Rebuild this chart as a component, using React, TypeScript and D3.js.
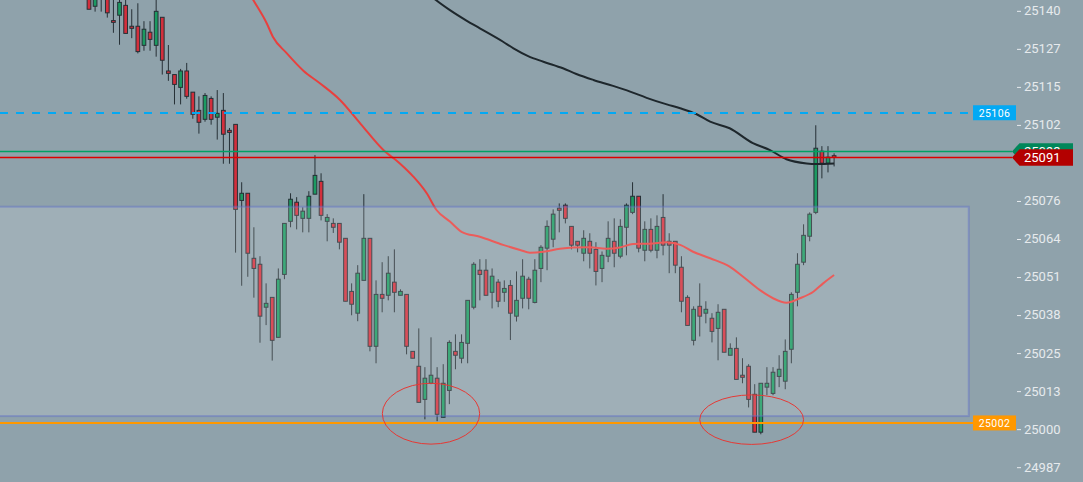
import * as d3 from "d3"

// candles (index 0 = first visible candle)
const open = [
  25147.2, 25141.7, 25152.0, 25144.8, 25136.9, 25138.7, 25142.0, 25135.0, 25135.0, 25128.6,
  25133.0, 25128.6, 25138.0, 25120.0, 25118.8, 25114.5, 25120.0, 25112.9, 25106.8, 25103.8,
  25110.8, 25104.5, 25106.8, 25100.1, 25102.1, 25076.6, 25079.0, 25057.2, 25055.2, 25040.8,
  25044.1, 25030.7, 25051.8, 25069.6, 25076.0, 25070.6, 25070.6, 25078.7, 25083.0, 25069.6,
  25068.9, 25068.9, 25063.9, 25046.1, 25038.8, 25049.8, 25063.9, 25027.7, 25045.1, 25044.8,
  25049.2, 25044.8, 25045.1, 25026.0, 25021.0, 25009.9, 25015.3, 25017.0, 25003.9, 25012.9,
  25026.0, 25023.7, 25028.7, 25040.8, 25053.2, 25053.2, 25045.8, 25049.2, 25045.8, 25048.1,
  25037.8, 25043.8, 25050.2, 25042.4, 25053.8, 25060.6, 25063.6, 25074.0, 25075.0, 25067.9,
  25062.9, 25058.9, 25062.9, 25060.2, 25053.8, 25057.9, 25062.9, 25057.9, 25067.6, 25072.6,
  25078.0, 25059.9, 25066.9, 25059.9, 25070.9, 25062.9, 25062.9, 25054.2, 25044.1, 25029.7,
  25041.1, 25038.8, 25037.1, 25033.7, 25040.1, 25024.7, 25027.0, 25018.0, 25021.0, 25011.6,
  24998.9, 25014.0, 25011.9, 25017.6, 25016.0, 25026.7, 25045.8, 25055.9, 25064.6, 25072.6,
  25093.1, 25089.1, 25091.6,
]
const high = [
  25149.0, 25148.0, 25153.0, 25147.0, 25144.5, 25144.5, 25144.1, 25140.7, 25142.7, 25136.7,
  25136.7, 25144.1, 25138.0, 25128.7, 25118.8, 25120.7, 25122.7, 25112.9, 25111.5, 25112.6,
  25111.5, 25113.6, 25112.6, 25100.9, 25102.1, 25082.7, 25079.0, 25067.6, 25057.9, 25048.8,
  25044.1, 25053.8, 25068.9, 25079.0, 25077.7, 25074.3, 25079.7, 25091.8, 25085.7, 25072.0,
  25070.6, 25068.9, 25063.9, 25048.8, 25054.9, 25078.7, 25063.9, 25049.8, 25055.9, 25057.9,
  25060.2, 25046.8, 25045.1, 25026.0, 25033.7, 25020.7, 25030.7, 25020.7, 25021.7, 25029.7,
  25031.7, 25031.7, 25043.1, 25055.9, 25056.9, 25056.9, 25053.8, 25050.2, 25049.8, 25049.9,
  25052.8, 25056.9, 25051.0, 25056.9, 25061.6, 25069.9, 25073.6, 25075.6, 25075.6, 25067.9,
  25062.9, 25066.6, 25065.6, 25062.6, 25059.5, 25069.6, 25070.6, 25070.3, 25075.6, 25082.7,
  25078.0, 25069.6, 25070.6, 25071.6, 25078.7, 25065.6, 25062.9, 25057.9, 25044.8, 25041.1,
  25048.8, 25042.8, 25038.8, 25041.8, 25040.1, 25028.7, 25030.7, 25023.7, 25021.7, 25015.0,
  25015.3, 25020.7, 25020.7, 25024.7, 25030.0, 25045.8, 25058.9, 25068.6, 25072.6, 25101.8,
  25094.8, 25094.8, 25092.4,
]
const low = [
  25140.7, 25139.9, 25139.9, 25137.9, 25132.8, 25128.8, 25132.6, 25131.0, 25125.9, 25126.8,
  25126.8, 25124.8, 25118.8, 25116.7, 25108.8, 25108.8, 25110.7, 25104.0, 25099.0, 25103.0,
  25102.0, 25097.0, 25088.9, 25088.9, 25059.1, 25048.0, 25051.0, 25044.0, 25028.9, 25034.8,
  25022.9, 25030.7, 25050.2, 25067.6, 25066.9, 25065.9, 25065.9, 25078.7, 25069.9, 25062.9,
  25065.7, 25060.2, 25042.8, 25038.1, 25036.1, 25049.8, 25026.0, 25022.0, 25039.1, 25043.1,
  25039.1, 25044.8, 25025.0, 25023.7, 25008.9, 25003.2, 25015.0, 25002.6, 25003.9, 25008.3,
  25020.0, 25022.0, 25022.0, 25040.1, 25043.1, 25044.8, 25040.4, 25040.8, 25042.6, 25029.8,
  25036.0, 25040.4, 25040.1, 25042.1, 25049.2, 25053.2, 25060.9, 25065.9, 25068.9, 25060.2,
  25059.2, 25056.2, 25053.8, 25048.1, 25049.2, 25055.9, 25054.2, 25057.2, 25058.2, 25072.0,
  25059.2, 25056.2, 25059.2, 25057.2, 25058.2, 25052.2, 25052.2, 25039.1, 25034.7, 25028.0,
  25031.0, 25035.4, 25029.0, 25023.0, 25025.7, 25024.7, 25016.6, 25015.3, 25007.2, 24998.9,
  24998.2, 25011.3, 25011.3, 25014.0, 25013.3, 25022.0, 25041.1, 25054.9, 25062.9, 25072.0,
  25084.0, 25086.0, 25088.0,
]
const close = [
  25140.7, 25145.8, 25146.0, 25139.5, 25136.3, 25143.0, 25132.6, 25134.3, 25126.5, 25134.0,
  25130.6, 25140.0, 25123.6, 25119.2, 25115.5, 25120.0, 25111.5, 25105.5, 25102.8, 25111.8,
  25103.8, 25105.8, 25098.8, 25099.4, 25073.6, 25079.0, 25058.9, 25053.8, 25037.8, 25042.1,
  25029.7, 25050.2, 25068.9, 25077.0, 25071.6, 25073.0, 25078.0, 25085.0, 25071.6, 25070.9,
  25067.6, 25062.6, 25042.8, 25041.8, 25052.2, 25063.9, 25027.7, 25045.1, 25043.8, 25052.2,
  25045.8, 25046.1, 25027.7, 25023.7, 25008.9, 25017.0, 25018.0, 25004.9, 25015.3, 25029.0,
  25024.7, 25029.0, 25043.1, 25055.2, 25051.8, 25044.8, 25051.2, 25042.8, 25047.1, 25038.8,
  25043.1, 25051.2, 25043.8, 25053.2, 25060.9, 25067.9, 25072.0, 25073.3, 25070.6, 25061.6,
  25061.6, 25063.9, 25058.9, 25052.8, 25058.2, 25063.9, 25058.9, 25067.9, 25075.0, 25078.0,
  25060.6, 25066.9, 25059.9, 25067.9, 25061.6, 25061.6, 25054.9, 25042.8, 25034.7, 25040.1,
  25037.8, 25040.1, 25032.7, 25039.1, 25025.7, 25027.0, 25016.6, 25017.3, 25009.9, 24998.9,
  25015.3, 25015.3, 25019.0, 25020.0, 25026.0, 25045.1, 25055.2, 25064.9, 25072.0, 25094.1,
  25089.1, 25091.1, 25091.0,
]

// moving averages, sampled points [candle index, price]
const redMA: [number, number][] = [
  [25.0, 25150.5], [26.9, 25143.8], [29.1, 25136.0], [30.1, 25131.5], [32.4, 25125.9],
  [35.1, 25120.1], [37.8, 25115.9], [41.1, 25110.3], [44.5, 25102.2], [48.2, 25093.5],
  [50.9, 25089.0], [53.1, 25084.6], [55.3, 25079.0], [56.9, 25073.4], [59.1, 25069.5],
  [61.0, 25066.1], [64.0, 25064.4], [67.8, 25061.7], [70.6, 25060.0], [72.2, 25059.1],
  [74.4, 25059.4], [77.1, 25060.4], [79.3, 25060.8], [82.0, 25060.9], [84.7, 25060.4],
  [86.9, 25060.8], [89.1, 25062.0], [91.8, 25062.1], [94.6, 25062.6], [96.8, 25061.7],
  [98.9, 25059.4], [101.7, 25057.2], [104.9, 25054.4], [107.1, 25051.0], [109.8, 25046.6],
  [112.0, 25043.8], [114.2, 25042.3], [116.4, 25043.8], [118.6, 25046.0], [120.2, 25048.8],
  [122.0, 25051.6],
]
const blackMA: [number, number][] = [
  [55.8, 25145.5], [56.8, 25143.8], [59.1, 25140.4], [61.8, 25136.9], [64.0, 25134.3],
  [67.8, 25129.8], [69.5, 25127.6], [71.9, 25125.0], [74.4, 25123.1], [77.6, 25120.9],
  [79.8, 25119.0], [82.6, 25117.0], [85.8, 25115.0], [88.6, 25113.1], [91.3, 25111.0],
  [94.6, 25108.8], [96.8, 25107.5], [99.5, 25105.5], [101.7, 25103.0], [104.9, 25100.8],
  [108.7, 25095.8], [111.5, 25093.5], [114.2, 25090.4], [117.5, 25089.0], [119.1, 25088.8],
  [122.0, 25089.0],
]

// price levels
const dashedLevel = 25106
const supportLevel = 25002
const prevCloseLevel = 25093
const lastPrice = 25091

// demand zone and the two marked lows
const zone = { from: -20, to: 144.05, top: 25074.5, bottom: 25004.3 }
const marks = [
  { i: 56.0, p: 25005.1, di: 7.97, dp: 10.2 },
  { i: 108.5, p: 25003.1, di: 8.5, dp: 8.3 },
]

const tickValues = [
  24987, 24999.75, 25012.5, 25025.25, 25038, 25050.75, 25063.5, 25076.25, 25089, 25101.75,
  25114.5, 25127.25, 25140,
]
const tickLabels = [
  "24987", "25000", "25013", "25025", "25038", "25051", "25064", "25076", "25089", "25102",
  "25115", "25127", "25140",
]

export default function App() {
  const width = 1083
  const height = 482
  const plotW = 1010

  const x = d3.scaleLinear().domain([-14.57, 150.8]).range([0, plotW])
  const y = d3.scaleLinear().domain([24982.2, 25143.8]).range([height, 0])

  const maLine = d3
    .line<[number, number]>()
    .x((d) => x(d[0]))
    .y((d) => y(d[1]))
    .curve(d3.curveMonotoneX)

  const bodyW = 3.7
  const up = "#1c9a62"
  const down = "#d32f3c"
  const edge = "#263036"

  const tagH = 16.7
  const tagTop = y(prevCloseLevel) - tagH / 2
  const tagBottom = y(lastPrice) + tagH / 2

  const labelBox = (level: number, fill: string, text: string) => {
    const cy = y(level)
    return (
      <g>
        <rect x={973} y={cy - 7.5} width={43} height={15} fill={fill} />
        <text
          x={994.5}
          y={cy}
          dy="0.36em"
          textAnchor="middle"
          fill="#fff"
          fontSize={10.5}
          letterSpacing={0.4}
        >
          {text}
        </text>
      </g>
    )
  }
  const priceTag = (level: number, fill: string, text: string) => {
    const cy = y(level)
    const pts = [
      [1012, cy],
      [1019.5, cy - tagH / 2],
      [1073, cy - tagH / 2],
      [1073, cy + tagH / 2],
      [1019.5, cy + tagH / 2],
    ]
    return (
      <g>
        <polygon points={pts.map((p) => p.join(",")).join(" ")} fill={fill} />
        <text x={1024} y={cy} dy="0.36em" fill="#fff" fontSize={13}>
          {text}
        </text>
      </g>
    )
  }

  return (
    <svg
      width={width}
      height={height}
      style={{ display: "block", fontFamily: "Roboto, sans-serif" }}
    >
      <style>{`body{margin:0}`}</style>
      <rect width={width} height={height} fill="#8fa2ab" />

      {open.map((o, i) => {
        const c = close[i]
        const bull = c >= o
        const cx = x(i)
        const yTop = y(Math.max(o, c))
        const yBot = y(Math.min(o, c))
        return (
          <g key={i}>
            <line x1={cx} x2={cx} y1={y(high[i])} y2={y(low[i])} stroke={edge} strokeWidth={1} />
            <rect
              x={cx - bodyW / 2}
              y={yTop}
              width={bodyW}
              height={Math.max(1, yBot - yTop)}
              fill={bull ? up : down}
              stroke={edge}
              strokeWidth={1}
            />
          </g>
        )
      })}

      <path d={maLine(redMA) || ""} fill="none" stroke="#e8403e" strokeWidth={2} />
      <path d={maLine(blackMA) || ""} fill="none" stroke="#1e272c" strokeWidth={2} />

      <rect
        x={x(zone.from)}
        y={y(zone.top)}
        width={x(zone.to) - x(zone.from)}
        height={y(zone.bottom) - y(zone.top)}
        fill="rgba(255,255,255,0.15)"
        stroke="rgba(96,110,200,0.45)"
        strokeWidth={2}
      />

      <line x1={0} x2={973} y1={Math.round(y(dashedLevel))} y2={Math.round(y(dashedLevel))} stroke="#03a9f4" strokeWidth={2} strokeDasharray="8 8" />
      <line x1={0} x2={973} y1={Math.round(y(supportLevel))} y2={Math.round(y(supportLevel))} stroke="#ff9800" strokeWidth={2} />
      <line x1={0} x2={1012} y1={y(prevCloseLevel)} y2={y(prevCloseLevel)} stroke="#00a064" strokeWidth={1.5} />
      <line x1={0} x2={1012} y1={y(lastPrice)} y2={y(lastPrice)} stroke="#dd0000" strokeWidth={1.5} />

      {marks.map((m, k) => (
        <ellipse
          key={k}
          cx={x(m.i)}
          cy={y(m.p)}
          rx={x(m.i + m.di) - x(m.i)}
          ry={y(m.p - m.dp) - y(m.p)}
          fill="none"
          stroke="#e53935"
          strokeWidth={1}
        />
      ))}

      {tickValues.map((v, k) => {
        const ty = y(v)
        // the price tags cover this tick in the picture
        if (ty > tagTop - 4 && ty < tagBottom + 4) return null
        return (
          <g key={v} transform={`translate(0,${ty})`}>
            <line x1={1017} x2={1021} stroke="#e6eaed" strokeWidth={1} />
            <text x={1024} dy="0.3em" fill="#e6eaed" fontSize={13}>
              {tickLabels[k]}
            </text>
          </g>
        )
      })}

      {labelBox(dashedLevel, "#03a9f4", String(dashedLevel))}
      {labelBox(supportLevel, "#ff9800", String(supportLevel))}
      {priceTag(prevCloseLevel, "#00875a", String(prevCloseLevel))}
      {priceTag(lastPrice, "#b30000", String(lastPrice))}
    </svg>
  )
}
